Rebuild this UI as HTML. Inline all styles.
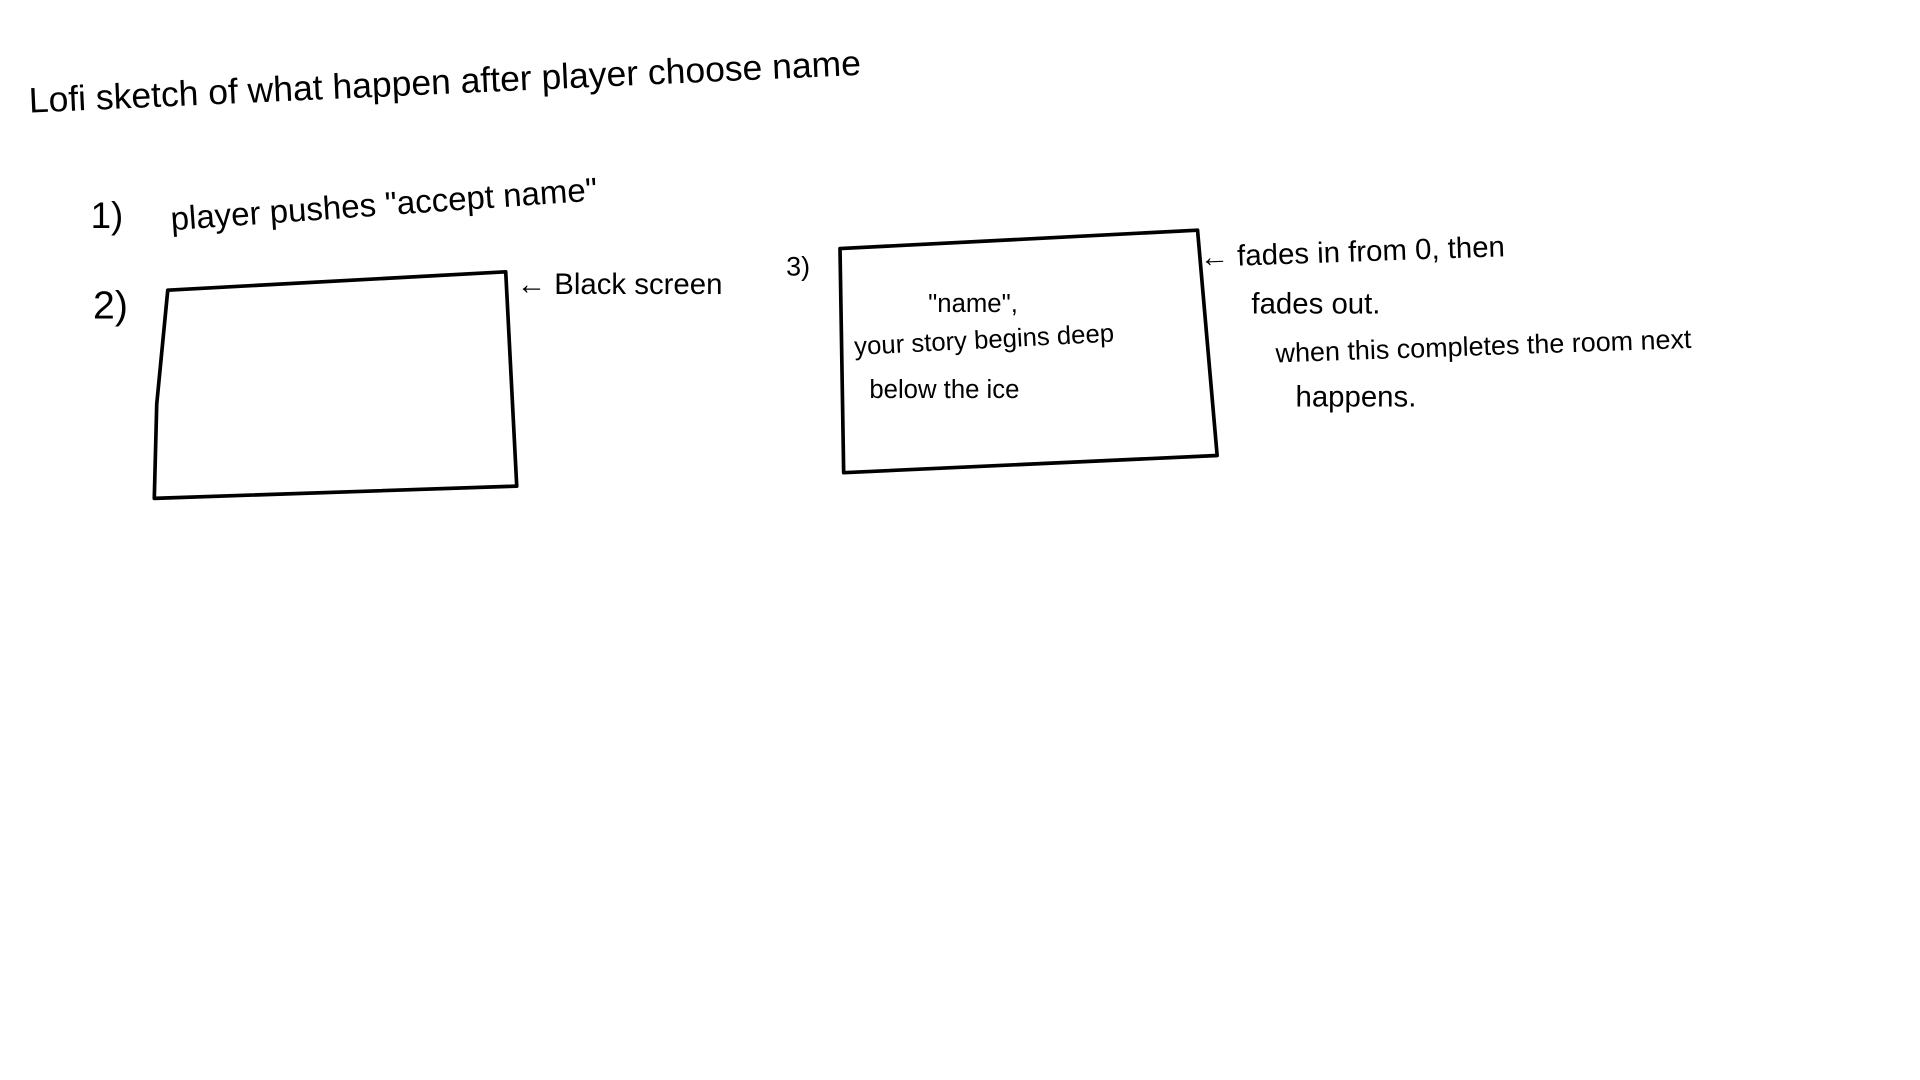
<!DOCTYPE html>
<html>
<head>
<meta charset="utf-8">
<style>
  html,body{margin:0;padding:0;background:#fff;}
  svg{display:block;}
  text{font-family:"Liberation Sans",sans-serif;fill:#000;}
</style>
</head>
<body>
<svg width="1920" height="1080" viewBox="0 0 1568 882" xmlns="http://www.w3.org/2000/svg">
  <rect width="1568" height="882" fill="#fff"/>
  <text x="24" y="92" font-size="29" transform="rotate(-2.6 24 92)">Lofi sketch of what happen after player choose name</text>

  <text x="74" y="186" font-size="30">1)</text>
  <text x="140" y="188" font-size="27" transform="rotate(-4 140 188)">player pushes "accept name"</text>

  <text x="76" y="260" font-size="32">2)</text>
  <path d="M137,237 L413,222 L422,397 L126,407 L128,330 Z" fill="none" stroke="#000" stroke-width="3" stroke-linejoin="round"/>
  <text x="422" y="240" font-size="24">← Black screen</text>

  <text x="642" y="225" font-size="22">3)</text>
  <path d="M686,203 L978,188 L994,372 L689,386 Z" fill="none" stroke="#000" stroke-width="3" stroke-linejoin="round"/>
  <text x="758" y="255" font-size="21">"name",</text>
  <text x="698" y="290" font-size="21" transform="rotate(-3 698 290)">your story begins deep</text>
  <text x="710" y="325" font-size="21">below the ice</text>

  <text x="980" y="218" font-size="24" transform="rotate(-2 980 218)">← fades in from 0, then</text>
  <text x="1022" y="256" font-size="24">fades out.</text>
  <text x="1042" y="296" font-size="22" transform="rotate(-2 1042 296)">when this completes the room next</text>
  <text x="1058" y="332" font-size="24">happens.</text>
</svg>
</body>
</html>
